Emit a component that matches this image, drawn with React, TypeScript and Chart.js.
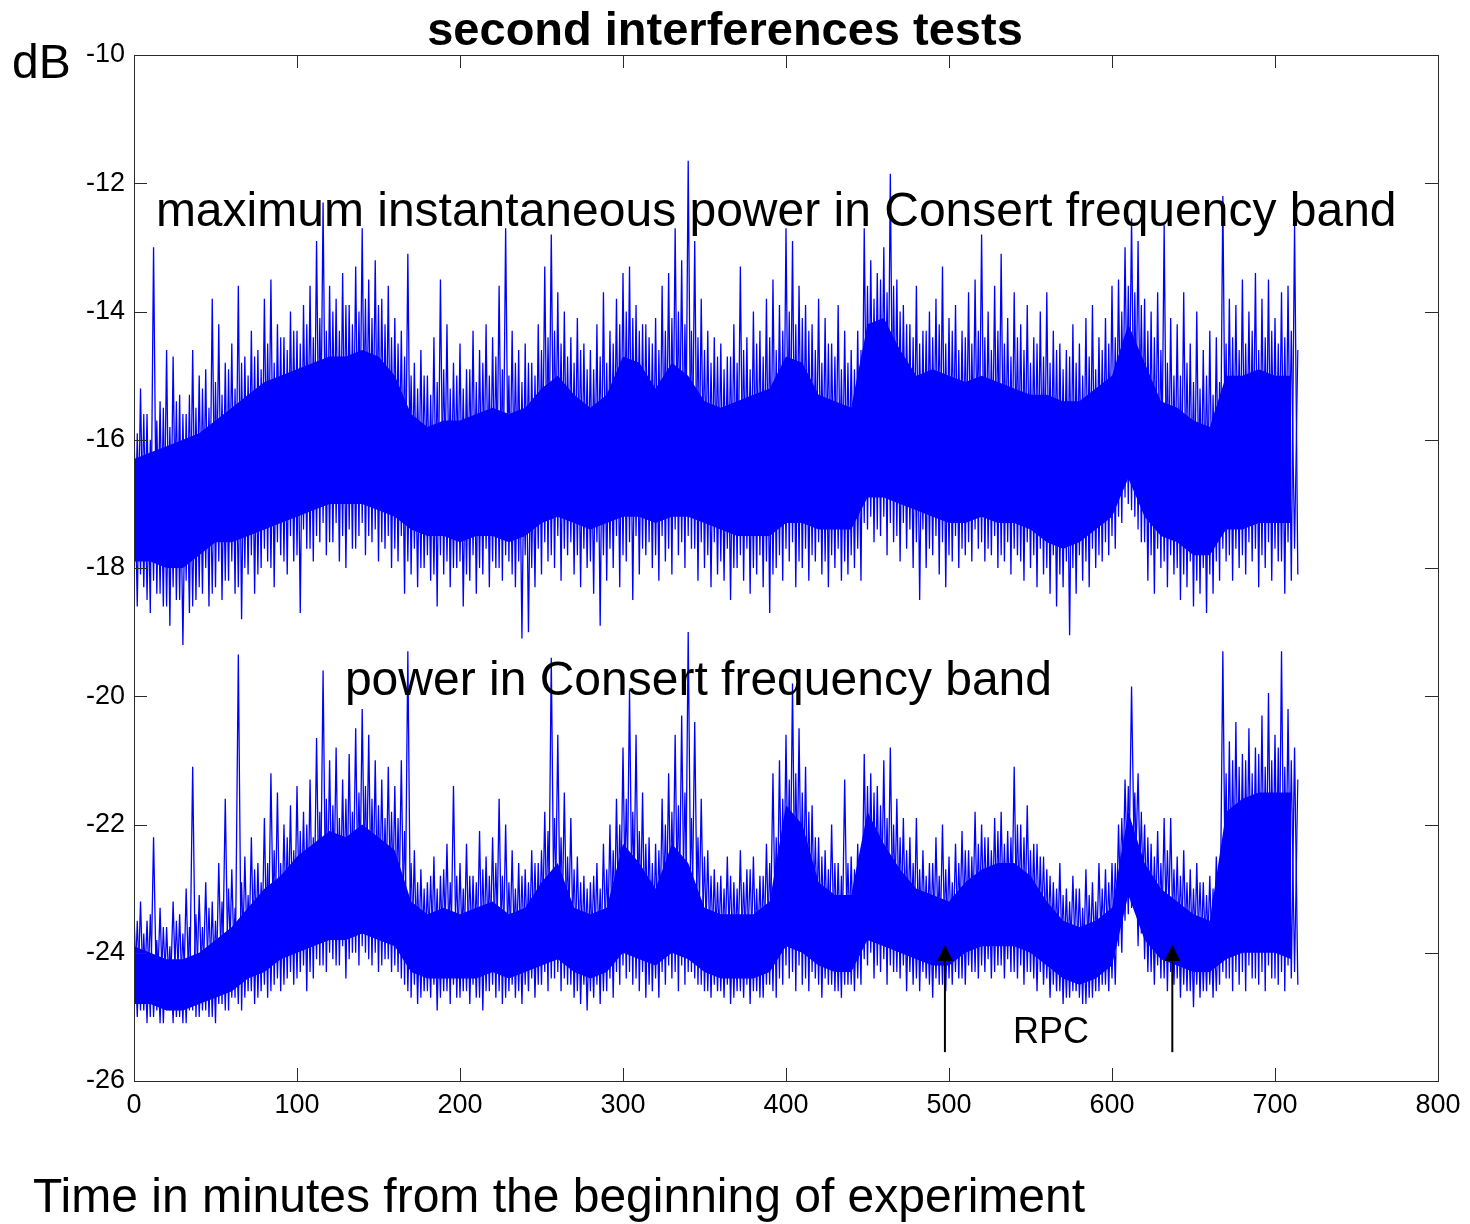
import React, { useEffect, useRef } from 'react';
import { Chart, registerables } from 'chart.js';

Chart.register(...registerables);

// ---- data -----------------------------------------------------------------
// time between successive samples of the traces (minutes)
const sampleStep = 2;
// time between samples of the dense core envelopes (minutes)
const coreStep = 10;

const xTickValues = [0, 100, 200, 300, 400, 500, 600, 700, 800];
const yTickValues = [-26, -24, -22, -20, -18, -16, -14, -12, -10];

// maximum instantaneous power: spikes up (t = 0,4,8,...) and down (t = 2,6,10,...) in dB
const maxPeaks = [
  -15.8, -15.2, -15.6, -13.0, -15.4, -14.6, -14.7, -15.3, -15.6, -14.6,
  -15.0, -14.9, -13.8, -14.2, -14.8, -14.5, -13.6, -14.7, -14.3, -14.6,
  -13.8, -13.5, -14.2, -14.4, -14.0, -14.3, -13.9, -13.6, -12.9, -12.3,
  -13.6, -13.8, -13.4, -13.9, -13.3, -12.7, -13.5, -13.2, -13.8, -13.6,
  -14.1, -14.3, -13.1, -14.8, -14.6, -15.0, -14.4, -13.5, -14.2, -14.8,
  -14.5, -14.9, -14.3, -14.6, -14.2, -14.4, -13.6, -12.7, -14.3, -14.6,
  -14.5, -14.8, -14.2, -13.3, -12.8, -13.7, -14.0, -14.4, -14.1, -14.5,
  -14.6, -14.2, -13.7, -14.3, -13.8, -13.4, -13.3, -13.9, -14.2, -14.4,
  -14.1, -13.6, -13.4, -12.7, -13.2, -11.65, -12.9, -13.8, -14.3, -14.4,
  -14.5, -14.7, -14.2, -13.3, -14.4, -14.0, -14.3, -13.8, -13.5, -13.9,
  -12.7, -12.9, -13.6, -13.9, -14.2, -13.8, -14.1, -14.5, -13.9, -14.3,
  -14.6, -14.3, -12.7, -13.2, -13.4, -13.0, -11.85, -13.5, -13.9, -14.2,
  -13.6, -14.3, -14.0, -13.8, -13.3, -14.1, -13.9, -14.3, -13.7, -13.5,
  -12.8, -14.0, -13.6, -13.1, -14.1, -13.7, -14.2, -13.9, -14.4, -14.0,
  -13.7, -14.3, -14.5, -14.6, -14.2, -14.5, -14.1, -13.9, -14.4, -14.1,
  -13.6, -13.5, -13.0, -12.55, -12.9, -13.8, -14.0, -13.7, -12.65, -14.1,
  -14.2, -13.7, -14.5, -14.0, -14.6, -14.3, -14.4, -12.2, -13.8, -13.9,
  -13.5, -14.0, -13.4, -13.8, -13.5, -14.1, -13.7, -13.6, -12.65,
];
const maxTroughs = [
  -18.6, -18.3, -18.7, -18.4, -18.6, -18.9, -18.5, -19.2, -18.7, -18.5,
  -18.4, -18.6, -18.3, -18.5, -18.2, -18.4, -18.8, -18.1, -18.4, -18.0,
  -17.9, -18.3, -17.8, -18.1, -17.9, -18.7, -17.7, -17.9, -17.6, -17.8,
  -17.6, -17.9, -18.0, -17.7, -17.5, -17.8, -17.6, -17.9, -17.7, -18.0,
  -17.9, -18.4, -18.1, -18.3, -18.0, -18.2, -18.6, -18.1, -18.3, -18.0,
  -18.6, -18.2, -18.4, -18.1, -18.3, -18.0, -18.2, -17.9, -18.3, -19.1,
  -19.0, -18.3, -18.1, -17.9, -18.0, -18.2, -17.8, -18.1, -18.3, -18.0,
  -18.4, -18.9, -18.2, -18.0, -18.3, -17.9, -18.5, -18.1, -17.8, -18.0,
  -18.2, -17.9, -18.1, -17.8, -18.0, -17.7, -18.2, -18.0, -18.3, -18.1,
  -18.2, -18.5, -18.0, -18.2, -18.4, -18.1, -18.3, -18.7, -18.0, -18.2,
  -17.9, -18.3, -18.0, -18.2, -17.9, -18.1, -18.3, -18.0, -18.2, -18.1,
  -18.0, -18.2, -17.4, -17.6, -17.5, -17.8, -17.6, -17.9, -17.7, -18.0,
  -18.5, -18.0, -17.8, -18.1, -18.3, -17.9, -18.0, -17.8, -17.9, -17.7,
  -17.9, -17.8, -18.0, -17.9, -18.1, -17.8, -18.2, -18.0, -18.3, -18.1,
  -18.4, -18.6, -18.3, -19.05, -18.4, -18.2, -18.3, -18.0, -17.9, -17.8,
  -17.7, -17.3, -17.0, -17.2, -17.6, -18.2, -18.4, -18.0, -18.3, -18.1,
  -18.5, -18.3, -18.6, -18.4, -18.7, -18.4, -18.2, -17.9, -18.2, -18.0,
  -18.1, -17.9, -18.3, -18.0, -18.2, -17.9, -18.4, -18.2, -18.1,
];
// maximum instantaneous power: dense fringe, lows (t = 0,4,...) and highs (t = 2,6,...)
const maxFringeLows = [
  -18.3, -18.1, -18.5, -18.2, -18.4, -18.6, -18.3, -18.5, -18.2, -18.6,
  -18.3, -18.0, -18.4, -17.9, -18.2, -17.9, -18.3, -18.0, -17.8, -18.1,
  -17.7, -18.0, -17.6, -17.9, -17.5, -17.8, -17.4, -17.7, -17.5, -17.3,
  -17.6, -17.3, -17.5, -17.4, -17.7, -17.3, -17.5, -17.4, -17.6, -17.5,
  -17.7, -17.5, -17.9, -17.7, -18.0, -17.8, -18.1, -17.8, -17.9, -18.0,
  -17.9, -18.1, -17.8, -18.0, -17.7, -17.9, -18.0, -17.8, -18.1, -17.9,
  -17.8, -18.0, -17.7, -17.6, -17.8, -17.5, -17.7, -17.6, -17.8, -17.7,
  -17.9, -17.6, -17.8, -17.7, -17.5, -17.8, -17.6, -17.5, -17.7, -17.6,
  -17.8, -17.5, -17.7, -17.4, -17.6, -17.5, -17.7, -17.6, -17.8, -17.6,
  -17.9, -17.7, -18.0, -17.8, -17.7, -18.0, -17.8, -17.9, -18.1, -17.8,
  -17.7, -17.6, -17.9, -17.7, -17.8, -17.6, -17.9, -17.8, -17.7, -17.9,
  -17.8, -17.7, -17.3, -17.2, -17.4, -17.2, -17.3, -17.5, -17.3, -17.4,
  -17.6, -17.4, -17.7, -17.5, -17.6, -17.8, -17.5, -17.7, -17.6, -17.4,
  -17.6, -17.7, -17.5, -17.8, -17.6, -17.7, -17.9, -17.6, -17.8, -17.7,
  -18.0, -17.8, -18.1, -17.9, -18.0, -17.8, -17.9, -17.7, -17.8, -17.6,
  -17.5, -17.2, -16.9, -17.1, -17.4, -17.6, -17.8, -17.7, -17.9, -17.8,
  -18.0, -18.1, -17.9, -18.2, -18.0, -18.1, -17.9, -17.7, -17.8, -17.7,
  -17.8, -17.6, -17.7, -17.8, -17.6, -17.7, -17.9, -17.6, -17.7,
];
const maxFringeHighs = [
  -15.9, -15.6, -16.0, -15.7, -15.5, -15.8, -15.4, -15.6, -15.3, -15.5,
  -15.2, -15.5, -15.1, -15.3, -14.9, -15.2, -14.8, -15.0, -14.7, -14.9,
  -14.5, -14.8, -14.4, -14.6, -14.3, -14.5, -14.2, -14.4, -14.1, -14.3,
  -14.0, -14.3, -13.9, -14.2, -14.0, -13.8, -14.1, -13.9, -14.2, -14.4,
  -14.5, -14.7, -15.0, -15.2, -15.0, -15.3, -15.1, -14.9, -15.2, -15.0,
  -15.2, -14.9, -15.1, -14.8, -15.0, -14.7, -14.9, -15.0, -14.8, -15.1,
  -14.8, -15.0, -14.6, -14.4, -14.3, -14.5, -14.7, -14.8, -14.6, -14.9,
  -14.9, -14.7, -14.8, -14.5, -14.2, -14.0, -14.1, -14.3, -14.2, -14.5,
  -14.6, -14.3, -14.1, -14.0, -14.2, -14.3, -14.4, -14.6, -14.8, -14.7,
  -14.9, -14.7, -14.8, -14.6, -14.9, -14.5, -14.7, -14.4, -14.6, -14.3,
  -14.0, -14.2, -14.1, -14.3, -14.6, -14.8, -14.5, -14.7, -14.9, -14.8,
  -14.9, -14.6, -13.6, -13.8, -13.5, -13.7, -13.6, -14.0, -14.2, -14.4,
  -14.5, -14.3, -14.4, -14.2, -14.5, -14.3, -14.6, -14.4, -14.5, -14.3,
  -14.4, -14.6, -14.3, -14.5, -14.7, -14.4, -14.6, -14.8, -14.5, -14.7,
  -14.8, -14.6, -14.9, -14.7, -14.8, -15.0, -14.7, -14.9, -14.6, -14.5,
  -14.4, -14.0, -13.6, -13.7, -13.9, -14.3, -14.4, -14.6, -14.8, -15.0,
  -15.0, -14.8, -15.1, -15.2, -15.0, -15.3, -15.1, -14.5, -14.4, -14.6,
  -14.5, -14.3, -14.6, -14.4, -14.3, -14.5, -14.4, -14.3, -14.6,
];

// power in the band: spikes up and down in dB
const powPeaks = [
  -23.4, -23.2, -23.5, -22.2, -23.3, -23.6, -23.2, -23.4, -23.0, -21.1,
  -23.1, -22.9, -23.2, -22.6, -21.6, -22.7, -19.35, -22.5, -22.2, -22.6,
  -21.9, -21.2, -21.5, -22.0, -21.7, -21.4, -21.8, -21.3, -20.65, -19.6,
  -21.0, -20.8, -21.3, -20.9, -20.5, -20.2, -20.6, -21.0, -21.3, -21.1,
  -21.4, -21.0, -19.3, -22.4, -22.7, -22.9, -22.5, -22.8, -22.3, -21.4,
  -22.6, -22.3, -22.8, -22.1, -22.5, -22.2, -21.6, -22.0, -22.4, -22.6,
  -22.7, -22.4, -22.6, -21.8, -19.4, -20.6, -21.5, -21.9, -22.5, -22.8,
  -22.9, -22.6, -22.3, -22.0, -21.6, -20.8, -19.9, -20.6, -21.5, -22.2,
  -22.3, -21.6, -21.2, -20.6, -20.3, -19.0, -20.4, -21.6, -22.4, -22.7,
  -22.8, -22.5, -22.9, -22.4, -22.7, -22.5, -22.8, -22.3, -21.2, -21.0,
  -20.6, -19.8, -20.5, -21.1, -21.7, -22.2, -22.4, -22.0, -22.6, -21.3,
  -22.5, -22.3, -20.9, -21.2, -21.4, -21.0, -20.8, -21.6, -21.9, -22.2,
  -21.9, -22.4, -22.6, -22.2, -22.0, -22.5, -22.3, -22.1, -22.4, -21.8,
  -22.0, -22.2, -21.9, -21.8, -22.1, -21.1, -22.0, -21.7, -22.3, -22.5,
  -22.7, -22.9, -22.6, -23.0, -22.8, -23.0, -22.7, -22.9, -22.6, -22.7,
  -22.6, -22.0, -21.3, -19.85, -21.2, -22.0, -22.3, -22.1, -21.9, -21.9,
  -22.5, -22.4, -22.7, -22.6, -22.9, -22.8, -22.5, -19.3, -20.7, -20.4,
  -20.9, -20.5, -20.8, -20.3, -19.95, -20.6, -19.3, -20.2, -20.8,
];
const powTroughs = [
  -25.0, -24.9, -25.0, -24.9, -25.1, -24.9, -25.0, -25.1, -24.9, -25.0,
  -24.9, -25.0, -25.1, -24.8, -24.9, -24.7, -24.9, -24.6, -24.8, -24.6,
  -24.7, -24.5, -24.6, -24.4, -24.5, -24.3, -24.6, -24.4, -24.2, -24.3,
  -24.1, -24.2, -24.4, -24.0, -24.2, -24.0, -24.2, -24.3, -24.1, -24.3,
  -24.3, -24.5, -24.7, -24.8, -24.6, -24.7, -24.9, -24.6, -24.8, -24.7,
  -24.6, -24.8, -24.7, -24.9, -24.6, -24.7, -24.8, -24.6, -24.7, -24.8,
  -24.6, -24.7, -24.5, -24.6, -24.4, -24.6, -24.5, -24.7, -24.8, -24.9,
  -24.7, -24.8, -24.6, -24.7, -24.5, -24.4, -24.5, -24.6, -24.7, -24.6,
  -24.7, -24.5, -24.4, -24.6, -24.5, -24.3, -24.5, -24.6, -24.7, -24.6,
  -24.7, -24.8, -24.6, -24.7, -24.8, -24.6, -24.7, -24.5, -24.7, -24.5,
  -24.4, -24.6, -24.5, -24.6, -24.4, -24.7, -24.5, -24.6, -24.7, -24.5,
  -24.6, -24.5, -24.2, -24.4, -24.3, -24.5, -24.3, -24.4, -24.6, -24.5,
  -24.6, -24.4, -24.7, -24.5, -24.6, -24.5, -24.4, -24.5, -24.3, -24.4,
  -24.3, -24.4, -24.2, -24.4, -24.3, -24.4, -24.5, -24.3, -24.6, -24.5,
  -24.7, -24.6, -24.8, -24.7, -24.6, -24.8, -24.7, -24.6, -24.5, -24.6,
  -24.5, -24.0, -23.4, -23.1, -23.7, -24.3, -24.5, -24.4, -24.6, -24.5,
  -24.7, -24.6, -24.85, -24.7, -24.6, -24.7, -24.5, -24.4, -24.6, -24.5,
  -24.6, -24.4, -24.5, -24.6, -24.4, -24.5, -24.6, -24.4, -24.5,
];
// power in the band: dense fringe, lows (t = 0,4,...) and highs (t = 2,6,...)
const powFringeLows = [
  -25.0, -24.9, -25.1, -25.0, -25.1, -24.9, -25.1, -25.0, -25.1, -24.9,
  -25.0, -24.9, -25.0, -24.8, -24.9, -24.7, -24.8, -24.7, -24.6, -24.7,
  -24.5, -24.6, -24.4, -24.5, -24.3, -24.4, -24.2, -24.3, -24.1, -24.2,
  -24.0, -24.2, -23.9, -24.1, -24.0, -23.9, -24.1, -24.0, -24.2, -24.1,
  -24.2, -24.4, -24.6, -24.5, -24.7, -24.6, -24.5, -24.7, -24.6, -24.5,
  -24.7, -24.6, -24.5, -24.7, -24.6, -24.5, -24.6, -24.7, -24.5, -24.6,
  -24.5, -24.4, -24.5, -24.3, -24.4, -24.3, -24.4, -24.5, -24.6, -24.5,
  -24.6, -24.5, -24.6, -24.4, -24.3, -24.2, -24.3, -24.4, -24.3, -24.5,
  -24.4, -24.3, -24.2, -24.3, -24.2, -24.3, -24.4, -24.5, -24.6, -24.5,
  -24.6, -24.5, -24.7, -24.6, -24.5, -24.6, -24.7, -24.5, -24.6, -24.4,
  -24.2, -24.3, -24.2, -24.4, -24.3, -24.5, -24.4, -24.5, -24.6, -24.5,
  -24.5, -24.4, -24.1, -24.0, -24.2, -24.1, -24.2, -24.3, -24.2, -24.3,
  -24.4, -24.3, -24.5, -24.4, -24.5, -24.4, -24.3, -24.4, -24.2, -24.3,
  -24.2, -24.1, -24.3, -24.2, -24.1, -24.3, -24.2, -24.3, -24.4, -24.3,
  -24.4, -24.5, -24.6, -24.7, -24.6, -24.7, -24.8, -24.7, -24.6, -24.5,
  -24.4, -23.9, -23.5, -23.3, -23.9, -24.1, -24.3, -24.2, -24.4, -24.3,
  -24.4, -24.5, -24.6, -24.5, -24.6, -24.5, -24.6, -24.3, -24.4, -24.3,
  -24.3, -24.2, -24.4, -24.3, -24.2, -24.4, -24.3, -24.2, -24.3,
];
const powFringeHighs = [
  -23.5, -23.7, -23.4, -23.8, -23.6, -23.9, -23.5, -23.7, -23.6, -23.4,
  -23.6, -23.3, -23.5, -23.2, -23.0, -23.3, -22.9, -23.1, -22.7, -22.9,
  -22.6, -22.4, -22.6, -22.2, -22.4, -22.1, -22.0, -22.2, -21.8, -21.6,
  -21.7, -21.9, -21.6, -21.8, -21.5, -21.4, -21.6, -21.7, -21.9, -21.8,
  -21.9, -22.1, -22.6, -22.9, -23.0, -22.8, -23.0, -22.7, -22.9, -22.8,
  -23.0, -22.8, -22.9, -22.7, -22.8, -22.6, -22.8, -22.9, -23.0, -22.8,
  -22.9, -22.6, -22.4, -22.1, -21.9, -22.2, -22.5, -22.7, -22.9, -23.0,
  -22.8, -23.0, -22.7, -22.4, -22.0, -21.6, -21.8, -22.1, -22.3, -22.6,
  -22.4, -22.0, -21.8, -21.7, -21.5, -21.9, -22.2, -22.5, -22.8, -22.9,
  -23.0, -22.8, -23.0, -22.9, -22.7, -23.0, -22.8, -22.6, -22.2, -21.6,
  -21.3, -21.2, -21.5, -21.8, -22.2, -22.5, -22.7, -22.6, -22.8, -22.6,
  -22.7, -22.5, -21.4, -21.5, -21.7, -21.9, -22.0, -22.2, -22.4, -22.6,
  -22.7, -22.8, -22.6, -22.8, -22.7, -22.9, -22.6, -22.4, -22.5, -22.3,
  -22.2, -22.4, -22.1, -22.3, -22.2, -22.0, -22.2, -22.4, -22.3, -22.5,
  -22.8, -23.0, -23.1, -23.2, -23.0, -23.3, -23.1, -23.2, -23.0, -22.9,
  -22.6, -21.9, -21.4, -21.5, -21.8, -22.2, -22.5, -22.6, -22.4, -22.7,
  -22.8, -22.9, -23.0, -22.9, -23.1, -23.0, -22.9, -21.2, -21.0, -21.1,
  -21.0, -21.2, -20.9, -21.1, -21.0, -20.8, -21.1, -21.0, -21.3,
];

// dense core of each trace, every 10 minutes (dB)
const maxCoreTop = [
  -16.3, -16.2, -16.1, -16.0, -15.9, -15.7, -15.5, -15.3, -15.1, -15.0,
  -14.9, -14.8, -14.7, -14.7, -14.6, -14.7, -15.0, -15.6, -15.8, -15.7,
  -15.7, -15.6, -15.5, -15.6, -15.5, -15.2, -15.0, -15.3, -15.5, -15.3,
  -14.7, -14.8, -15.2, -14.8, -15.0, -15.4, -15.5, -15.4, -15.3, -15.2,
  -14.7, -14.8, -15.3, -15.4, -15.5, -14.2, -14.1, -14.6, -15.0, -14.9,
  -15.0, -15.1, -15.0, -15.1, -15.2, -15.3, -15.3, -15.4, -15.4, -15.2,
  -15.0, -14.2, -14.8, -15.4, -15.5, -15.7, -15.8, -15.0, -15.0, -14.9,
  -15.0, -15.0,
];
const maxCoreBottom = [
  -17.9, -17.9, -18.0, -18.0, -17.8, -17.6, -17.6, -17.5, -17.4, -17.3,
  -17.2, -17.1, -17.0, -17.0, -17.0, -17.1, -17.2, -17.4, -17.5, -17.5,
  -17.6, -17.5, -17.5, -17.6, -17.5, -17.3, -17.2, -17.3, -17.4, -17.3,
  -17.2, -17.2, -17.3, -17.2, -17.2, -17.3, -17.4, -17.5, -17.5, -17.5,
  -17.3, -17.3, -17.4, -17.4, -17.4, -16.9, -16.9, -17.0, -17.1, -17.2,
  -17.3, -17.3, -17.2, -17.3, -17.3, -17.4, -17.6, -17.7, -17.6, -17.4,
  -17.2, -16.6, -17.2, -17.5, -17.6, -17.8, -17.8, -17.4, -17.4, -17.3,
  -17.3, -17.3,
];
const powCoreTop = [
  -23.9, -24.0, -24.1, -24.1, -24.0, -23.8, -23.6, -23.3, -23.0, -22.8,
  -22.5, -22.3, -22.1, -22.2, -22.0, -22.2, -22.4, -23.2, -23.4, -23.3,
  -23.4, -23.3, -23.2, -23.4, -23.3, -22.9, -22.6, -23.3, -23.4, -23.3,
  -22.3, -22.6, -23.0, -22.3, -22.6, -23.3, -23.4, -23.4, -23.4, -23.2,
  -21.7, -22.0, -22.9, -23.1, -23.1, -21.8, -22.3, -22.7, -23.0, -23.1,
  -23.2, -22.9, -22.7, -22.6, -22.6, -22.8, -23.2, -23.5, -23.6, -23.5,
  -23.3, -21.8, -22.6, -23.0, -23.2, -23.4, -23.5, -21.8, -21.6, -21.5,
  -21.5, -21.5,
];
const powCoreBottom = [
  -24.8, -24.8, -24.9, -24.9, -24.8, -24.7, -24.6, -24.4, -24.3, -24.1,
  -24.0, -23.9, -23.8, -23.8, -23.7, -23.8, -23.9, -24.3, -24.4, -24.4,
  -24.4, -24.4, -24.3, -24.4, -24.3, -24.2, -24.1, -24.3, -24.4, -24.3,
  -24.0, -24.1, -24.2, -24.0, -24.1, -24.3, -24.4, -24.4, -24.4, -24.3,
  -23.9, -24.0, -24.2, -24.3, -24.3, -23.8, -23.9, -24.0, -24.1, -24.2,
  -24.2, -24.0, -23.9, -23.9, -23.9, -24.0, -24.2, -24.4, -24.5, -24.4,
  -24.2, -23.1, -23.8, -24.1, -24.2, -24.3, -24.3, -24.1, -24.0, -24.0,
  -24.0, -24.1,
];

// RPC markers (minutes) and the dB span of their arrows
const rpcArrowTimes = [497.5, 637];
const rpcArrowSpan = [-25.55, -23.88];

// ---- helpers --------------------------------------------------------------
const BLUE = '#0000ff';
const FONT = '"Liberation Sans", Arial, Helvetica, sans-serif';

// interleave two sample series: first at t = 0,4,8..., second at t = 2,6,10...
function trace(first: number[], second: number[]) {
  const pts: { x: number; y: number }[] = [];
  first.forEach((v, i) => {
    pts.push({ x: i * 2 * sampleStep, y: v });
    if (i < second.length) pts.push({ x: (i * 2 + 1) * sampleStep, y: second[i] });
  });
  return pts;
}

function core(values: number[]) {
  return values.map((v, i) => ({ x: i * coreStep, y: v }));
}

const decorations = {
  id: 'decorations',
  afterDraw(chart: any) {
    const { ctx, chartArea: a, scales } = chart;
    const xs = scales.x;
    const ys = scales.y;
    ctx.save();

    // axes box
    ctx.strokeStyle = '#2a2a2a';
    ctx.lineWidth = 1;
    ctx.strokeRect(Math.round(a.left) + 0.5, Math.round(a.top) + 0.5, Math.round(a.right - a.left), Math.round(a.bottom - a.top));

    // inward tick marks on all sides
    ctx.beginPath();
    const tl = 13;
    xTickValues.forEach((v) => {
      const px = Math.round(xs.getPixelForValue(v)) + 0.5;
      ctx.moveTo(px, a.bottom);
      ctx.lineTo(px, a.bottom - tl);
      ctx.moveTo(px, a.top);
      ctx.lineTo(px, a.top + tl);
    });
    yTickValues.forEach((v) => {
      const py = Math.round(ys.getPixelForValue(v)) + 0.5;
      ctx.moveTo(a.left, py);
      ctx.lineTo(a.left + tl, py);
      ctx.moveTo(a.right, py);
      ctx.lineTo(a.right - tl, py);
    });
    ctx.stroke();

    // tick labels
    ctx.fillStyle = '#000';
    ctx.font = `27px ${FONT}`;
    ctx.textAlign = 'center';
    ctx.textBaseline = 'top';
    xTickValues.forEach((v) => {
      ctx.fillText(String(v), xs.getPixelForValue(v), a.bottom + 11);
    });
    ctx.textAlign = 'right';
    ctx.textBaseline = 'middle';
    yTickValues.forEach((v) => {
      ctx.fillText(String(v), a.left - 9, ys.getPixelForValue(v));
    });

    // title, unit and axis label
    ctx.font = `bold 47px ${FONT}`;
    ctx.textAlign = 'center';
    ctx.textBaseline = 'alphabetic';
    ctx.fillText('second interferences tests', 725, 45);

    ctx.font = `48px ${FONT}`;
    ctx.textAlign = 'left';
    ctx.fillText('dB', 12, 78);
    ctx.fillText('Time in minutes from the beginning of experiment', 33, 1212);

    // in-plot annotations
    ctx.textAlign = 'center';
    ctx.fillText('maximum instantaneous power in Consert frequency band', xs.getPixelForValue(394), ys.getPixelForValue(-12.67));
    ctx.fillText('power in Consert frequency band', xs.getPixelForValue(346.3), ys.getPixelForValue(-19.98));

    ctx.font = `36px ${FONT}`;
    ctx.textBaseline = 'middle';
    ctx.fillText('RPC', xs.getPixelForValue(562.6), ys.getPixelForValue(-25.25));

    // RPC arrows
    ctx.strokeStyle = '#000';
    ctx.lineWidth = 2;
    rpcArrowTimes.forEach((t) => {
      const px = xs.getPixelForValue(t);
      const yTail = ys.getPixelForValue(rpcArrowSpan[0]);
      const yTip = ys.getPixelForValue(rpcArrowSpan[1]);
      ctx.beginPath();
      ctx.moveTo(px, yTail);
      ctx.lineTo(px, yTip + 12);
      ctx.stroke();
      ctx.beginPath();
      ctx.moveTo(px, yTip);
      ctx.lineTo(px - 8, yTip + 16);
      ctx.lineTo(px + 8, yTip + 16);
      ctx.closePath();
      ctx.fill();
    });

    ctx.restore();
  },
};

export default function App() {
  const canvasRef = useRef<HTMLCanvasElement | null>(null);

  useEffect(() => {
    const canvas = canvasRef.current;
    if (!canvas) return;
    const bandStyle = {
      borderColor: 'rgba(0,0,0,0)',
      borderWidth: 0,
      backgroundColor: BLUE,
      pointRadius: 0,
      order: 3,
    };
    const lineStyle = (width: number, order: number) => ({
      borderColor: BLUE,
      borderWidth: width,
      pointRadius: 0,
      fill: false,
      order,
    });
    const chart = new Chart(canvas, {
      type: 'line',
      data: {
        datasets: [
          { label: 'max core top', data: core(maxCoreTop), fill: '+1', ...bandStyle },
          { label: 'max core bottom', data: core(maxCoreBottom), fill: false, ...bandStyle },
          { label: 'power core top', data: core(powCoreTop), fill: '+1', ...bandStyle },
          { label: 'power core bottom', data: core(powCoreBottom), fill: false, ...bandStyle },
          { label: 'max fringe', data: trace(maxFringeLows, maxFringeHighs), ...lineStyle(1.2, 2) },
          { label: 'power fringe', data: trace(powFringeLows, powFringeHighs), ...lineStyle(1.2, 2) },
          { label: 'maximum instantaneous power in Consert frequency band', data: trace(maxPeaks, maxTroughs), ...lineStyle(1.3, 1) },
          { label: 'power in Consert frequency band', data: trace(powPeaks, powTroughs), ...lineStyle(1.3, 1) },
        ] as any,
      },
      options: {
        responsive: false,
        animation: false,
        events: [],
        layout: { padding: { left: 134, top: 55, right: 32, bottom: 143 } },
        plugins: {
          legend: { display: false },
          tooltip: { enabled: false },
          title: { display: false },
        },
        elements: { line: { tension: 0 } },
        scales: {
          x: { type: 'linear', min: 0, max: 800, display: false },
          y: { type: 'linear', min: -26, max: -10, display: false },
        },
      },
      plugins: [decorations],
    });
    return () => chart.destroy();
  }, []);

  return (
    <div style={{ position: 'absolute', left: 0, top: 0, width: 1470, height: 1224, background: '#fff' }}>
      <canvas ref={canvasRef} width={1470} height={1224} style={{ display: 'block' }} />
    </div>
  );
}
